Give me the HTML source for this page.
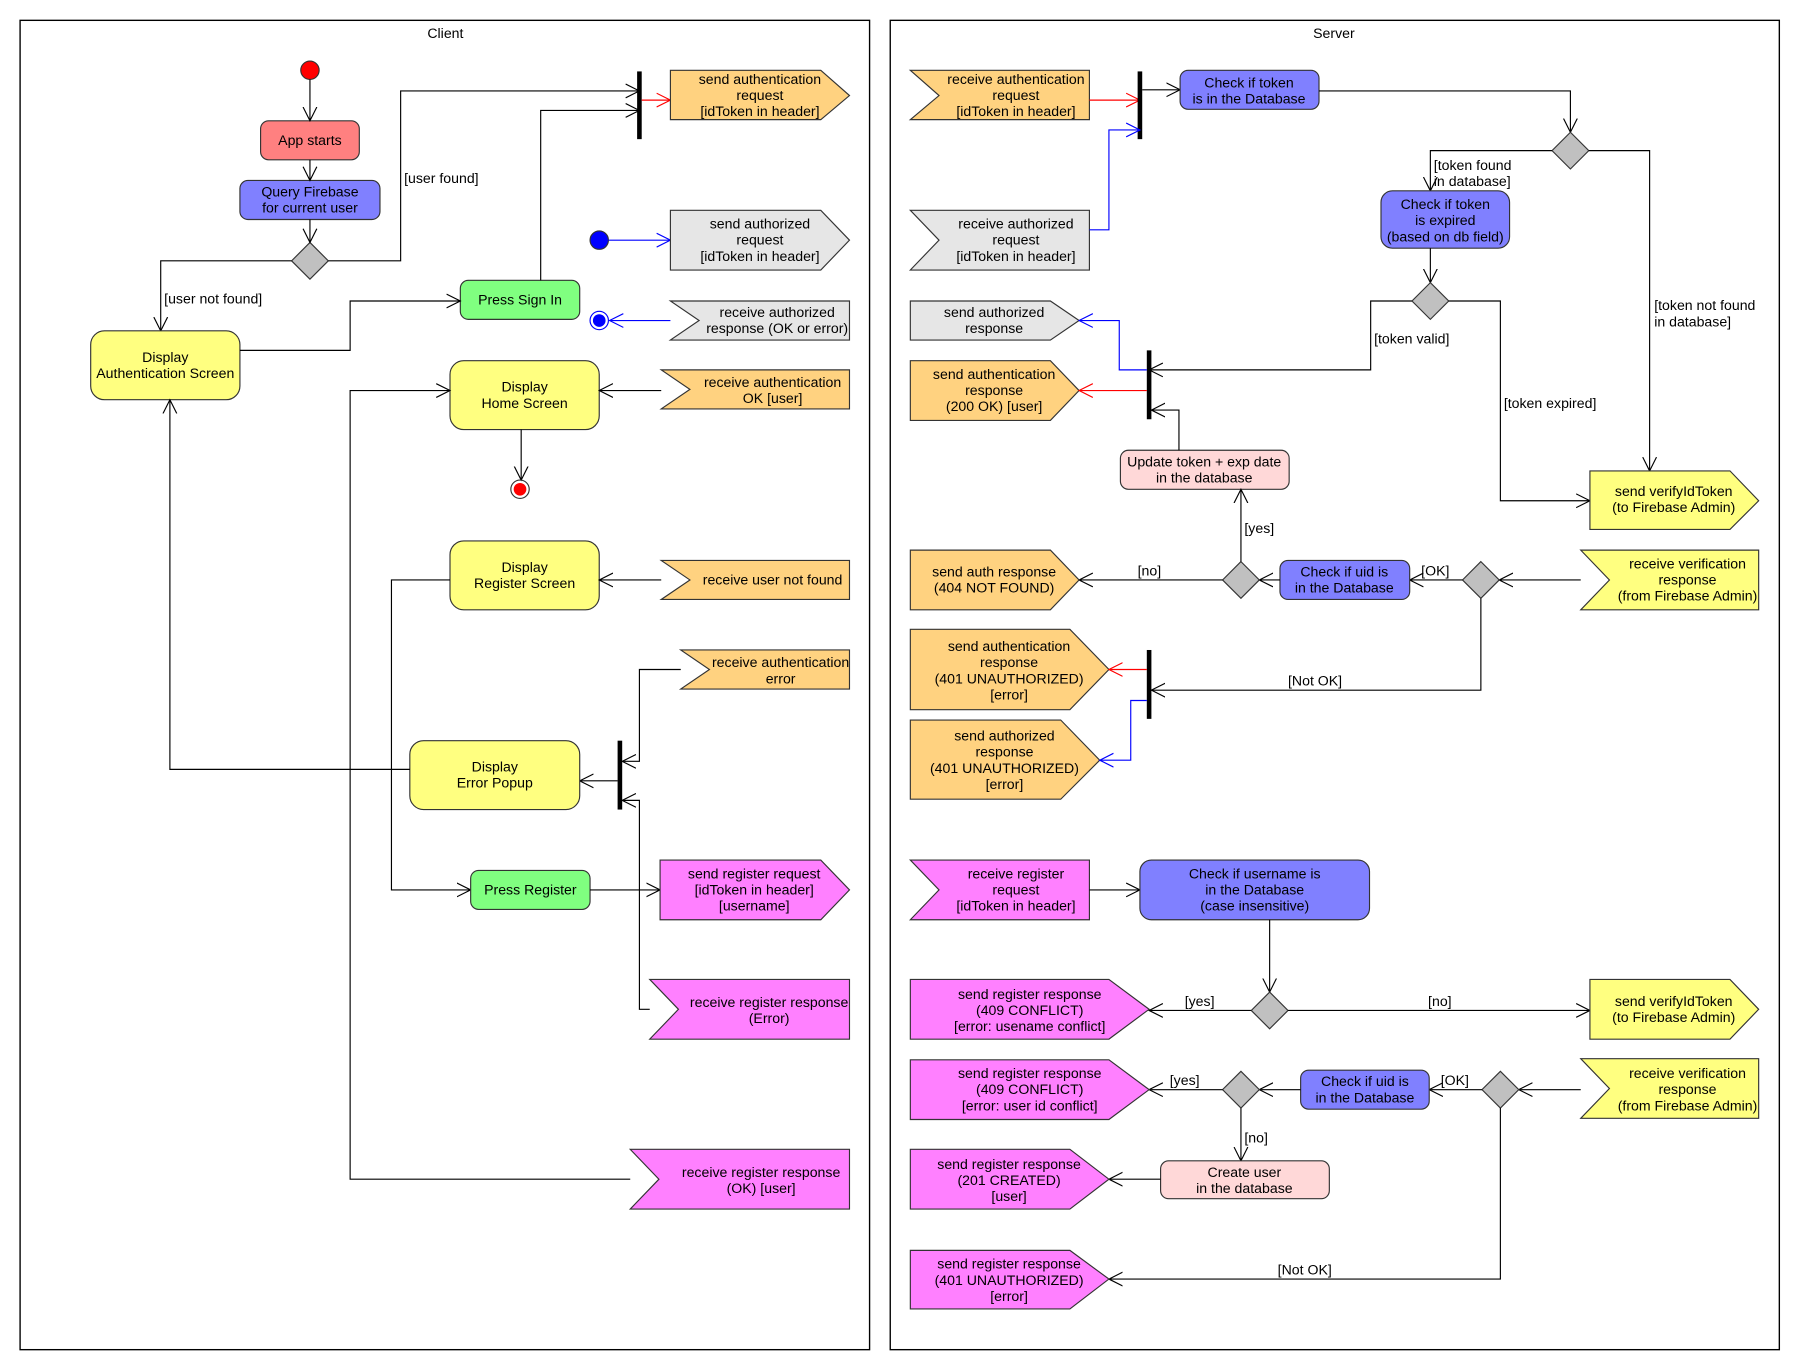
<!DOCTYPE html>
<html><head><meta charset="utf-8"><style>
html,body{margin:0;padding:0;background:#fff}
svg{display:block}
text{font-family:"Liberation Sans",sans-serif;font-size:12.3px;fill:#000}
.t{text-anchor:middle}
.n{stroke:#333;stroke-width:1}
.l{fill:none;stroke:#000;stroke-width:1}
.r{fill:none;stroke:#f00;stroke-width:1}
.b{fill:none;stroke:#00f;stroke-width:1}
</style></head><body>
<svg width="1800" height="1370" viewBox="0 0 1568 1193" xmlns="http://www.w3.org/2000/svg">
<defs>
<marker id="a" markerUnits="userSpaceOnUse" markerWidth="14" markerHeight="14" refX="12" refY="7" orient="auto"><path d="M0,1 L12,7 L0,13" fill="none" stroke="#000" stroke-width="1"/></marker>
<marker id="ar" markerUnits="userSpaceOnUse" markerWidth="14" markerHeight="14" refX="12" refY="7" orient="auto"><path d="M0,1 L12,7 L0,13" fill="none" stroke="#f00" stroke-width="1"/></marker>
<marker id="ab" markerUnits="userSpaceOnUse" markerWidth="14" markerHeight="14" refX="12" refY="7" orient="auto"><path d="M0,1 L12,7 L0,13" fill="none" stroke="#00f" stroke-width="1"/></marker>
</defs>
<rect x="0" y="0" width="1568" height="1193" fill="#fff"/>
<!-- frames -->
<rect x="17.5" y="17.5" width="740" height="1158" fill="none" stroke="#000" stroke-width="1.2"/>
<rect x="775.5" y="17.5" width="774.5" height="1158" fill="none" stroke="#000" stroke-width="1.2"/>
<text class="t" x="388" y="33">Client</text>
<text class="t" x="1162" y="33">Server</text>

<!-- ===== CLIENT ===== -->
<circle cx="270" cy="61" r="8" fill="#f00" class="n"/>
<rect x="227" y="105" width="86" height="34" rx="7" fill="#ff8080" class="n"/>
<text class="t" x="270" y="126">App starts</text>
<rect x="209" y="157" width="122" height="34" rx="7" fill="#8080ff" class="n"/>
<text class="t" x="270" y="171">Query Firebase<tspan x="270" dy="14">for current user</tspan></text>
<polygon points="270,211 286,227 270,243 254,227" fill="#c0c0c0" class="n"/>
<path class="l" d="M270,69 V105" marker-end="url(#a)"/>
<path class="l" d="M270,139 V157" marker-end="url(#a)"/>
<path class="l" d="M270,191 V211" marker-end="url(#a)"/>
<path class="l" d="M254,227 H140 V288" marker-end="url(#a)"/>
<text x="143" y="264">[user not found]</text>
<path class="l" d="M286,227 H349 V79 H557" marker-end="url(#a)"/>
<text x="352" y="159">[user found]</text>
<rect x="555" y="62" width="4" height="59" fill="#000"/>
<rect x="401" y="244" width="104" height="34" rx="7" fill="#80ff80" class="n"/>
<text class="t" x="453" y="265">Press Sign In</text>
<path class="l" d="M471,244 V96 H557" marker-end="url(#a)"/>
<path class="r" d="M559,87 H584" marker-end="url(#ar)"/>
<polygon points="584,61 715,61 740,83 715,104 584,104" fill="#ffd280" class="n"/>
<text class="t" x="662" y="73">send authentication<tspan x="662" dy="14">request</tspan><tspan x="662" dy="14">[idToken in header]</tspan></text>
<circle cx="522" cy="209" r="8" fill="#00f" class="n"/>
<path class="b" d="M530,209 H584" marker-end="url(#ab)"/>
<polygon points="584,183 715,183 740,209 715,235 584,235" fill="#e6e6e6" class="n"/>
<text class="t" x="662" y="199">send authorized<tspan x="662" dy="14">request</tspan><tspan x="662" dy="14">[idToken in header]</tspan></text>
<polygon points="584,262 740,262 740,296 584,296 609,279" fill="#e6e6e6" class="n"/>
<text class="t" x="677" y="276">receive authorized<tspan x="677" dy="14">response (OK or error)</tspan></text>
<path class="b" d="M584,279 H531" marker-end="url(#ab)"/>
<circle cx="522" cy="279" r="8" fill="none" stroke="#00f"/>
<circle cx="522" cy="279" r="5.5" fill="#00f"/>
<rect x="79" y="288" width="130" height="60" rx="12" fill="#ffff80" class="n"/>
<text class="t" x="144" y="315">Display<tspan x="144" dy="14">Authentication Screen</tspan></text>
<path class="l" d="M209,305 H305 V262 H401" marker-end="url(#a)"/>
<rect x="392" y="314" width="130" height="60" rx="12" fill="#ffff80" class="n"/>
<text class="t" x="457" y="341">Display<tspan x="457" dy="14">Home Screen</tspan></text>
<polygon points="576,322 740,322 740,356 576,356 601,339" fill="#ffd280" class="n"/>
<text class="t" x="673" y="337">receive authentication<tspan x="673" dy="14">OK [user]</tspan></text>
<path class="l" d="M576,340 H522" marker-end="url(#a)"/>
<path class="l" d="M454,374 V418" marker-end="url(#a)"/>
<circle cx="453" cy="426" r="8" fill="none" stroke="#333"/>
<circle cx="453" cy="426" r="5.5" fill="#f00"/>
<path class="l" d="M549,1027 H305 V340 H392" marker-end="url(#a)"/>
<rect x="392" y="471" width="130" height="60" rx="12" fill="#ffff80" class="n"/>
<text class="t" x="457" y="498">Display<tspan x="457" dy="14">Register Screen</tspan></text>
<polygon points="576,488 740,488 740,522 576,522 601,505" fill="#ffd280" class="n"/>
<text class="t" x="673" y="509">receive user not found</text>
<path class="l" d="M576,505 H522" marker-end="url(#a)"/>
<path class="l" d="M392,505 H341 V775 H410" marker-end="url(#a)"/>
<rect x="410" y="758" width="104" height="34" rx="7" fill="#80ff80" class="n"/>
<text class="t" x="462" y="779">Press Register</text>
<path class="l" d="M514,775 H575" marker-end="url(#a)"/>
<polygon points="575,749 715,749 740,775 715,801 575,801" fill="#ff80ff" class="n"/>
<text class="t" x="657" y="765">send register request<tspan x="657" dy="14">[idToken in header]</tspan><tspan x="657" dy="14">[username]</tspan></text>
<polygon points="593,566 740,566 740,600 593,600 618,583" fill="#ffd280" class="n"/>
<text class="t" x="680" y="581">receive authentication<tspan x="680" dy="14">error</tspan></text>
<path class="l" d="M593,583 H557 V663 H542" marker-end="url(#a)"/>
<rect x="538" y="645" width="4" height="60" fill="#000"/>
<path class="l" d="M538,680 H505" marker-end="url(#a)"/>
<rect x="357" y="645" width="148" height="60" rx="12" fill="#ffff80" class="n"/>
<text class="t" x="431" y="672">Display<tspan x="431" dy="14">Error Popup</tspan></text>
<path class="l" d="M357,670 H148 V348" marker-end="url(#a)"/>
<polygon points="566,853 740,853 740,905 566,905 591,879" fill="#ff80ff" class="n"/>
<text class="t" x="670" y="877">receive register response<tspan x="670" dy="14">(Error)</tspan></text>
<path class="l" d="M566,879 H557 V697 H542" marker-end="url(#a)"/>
<polygon points="549,1001 740,1001 740,1053 549,1053 574,1027" fill="#ff80ff" class="n"/>
<text class="t" x="663" y="1025">receive register response<tspan x="663" dy="14">(OK) [user]</tspan></text>

<!-- ===== SERVER ===== -->
<polygon points="793,61 949,61 949,104 793,104 818,83" fill="#ffd280" class="n"/>
<text class="t" x="885" y="73">receive authentication<tspan x="885" dy="14">request</tspan><tspan x="885" dy="14">[idToken in header]</tspan></text>
<path class="r" d="M949,87 H993" marker-end="url(#ar)"/>
<rect x="991" y="62" width="4" height="59" fill="#000"/>
<polygon points="793,183 949,183 949,235 793,235 818,209" fill="#e6e6e6" class="n"/>
<text class="t" x="885" y="199">receive authorized<tspan x="885" dy="14">request</tspan><tspan x="885" dy="14">[idToken in header]</tspan></text>
<path class="b" d="M949,200 H966 V113 H993" marker-end="url(#ab)"/>
<path class="l" d="M995,78 H1028" marker-end="url(#a)"/>
<rect x="1028" y="61" width="121" height="34" rx="7" fill="#8080ff" class="n"/>
<text class="t" x="1088" y="76">Check if token<tspan x="1088" dy="14">is in the Database</tspan></text>
<path class="l" d="M1149,79 H1368 V115" marker-end="url(#a)"/>
<polygon points="1368,115 1384,131 1368,147 1352,131" fill="#c0c0c0" class="n"/>
<path class="l" d="M1352,131 H1246 V166" marker-end="url(#a)"/>
<text x="1249" y="148">[token found<tspan x="1249" dy="14">in database]</tspan></text>
<path class="l" d="M1384,131 H1437 V410" marker-end="url(#a)"/>
<text x="1441" y="270">[token not found<tspan x="1441" dy="14">in database]</tspan></text>
<rect x="1203" y="166" width="112" height="50" rx="10" fill="#8080ff" class="n"/>
<text class="t" x="1259" y="182">Check if token<tspan x="1259" dy="14">is expired</tspan><tspan x="1259" dy="14">(based on db field)</tspan></text>
<path class="l" d="M1246,216 V246" marker-end="url(#a)"/>
<polygon points="1246,246 1262,262 1246,278 1230,262" fill="#c0c0c0" class="n"/>
<path class="l" d="M1230,262 H1194 V322 H1001" marker-end="url(#a)"/>
<text x="1197" y="299">[token valid]</text>
<path class="l" d="M1262,262 H1307 V436 H1385" marker-end="url(#a)"/>
<text x="1310" y="355">[token expired]</text>
<rect x="999" y="305" width="4" height="60" fill="#000"/>
<polygon points="793,262 915,262 940,279 915,296 793,296" fill="#e6e6e6" class="n"/>
<text class="t" x="866" y="276">send authorized<tspan x="866" dy="14">response</tspan></text>
<path class="b" d="M999,322 H975 V279 H940" marker-end="url(#ab)"/>
<polygon points="793,314 915,314 940,340 915,366 793,366" fill="#ffd280" class="n"/>
<text class="t" x="866" y="330">send authentication<tspan x="866" dy="14">response</tspan><tspan x="866" dy="14">(200 OK) [user]</tspan></text>
<path class="r" d="M999,340 H940" marker-end="url(#ar)"/>
<rect x="976" y="392" width="147" height="34" rx="7" fill="#ffd8d8" class="n"/>
<text class="t" x="1049" y="406">Update token + exp date<tspan x="1049" dy="14">in the database</tspan></text>
<path class="l" d="M1027,392 V357 H1003" marker-end="url(#a)"/>
<polygon points="1385,410 1507,410 1532,436 1507,461 1385,461" fill="#ffff80" class="n"/>
<text class="t" x="1458" y="432">send verifyIdToken<tspan x="1458" dy="14">(to Firebase Admin)</tspan></text>
<polygon points="1377,479 1532,479 1532,531 1377,531 1402,505" fill="#ffff80" class="n"/>
<text class="t" x="1470" y="495">receive verification<tspan x="1470" dy="14">response</tspan><tspan x="1470" dy="14">(from Firebase Admin)</tspan></text>
<path class="l" d="M1377,505 H1306" marker-end="url(#a)"/>
<polygon points="1290,489 1306,505 1290,521 1274,505" fill="#c0c0c0" class="n"/>
<path class="l" d="M1274,505 H1228" marker-end="url(#a)"/>
<text x="1238" y="501">[OK]</text>
<rect x="1115" y="488" width="113" height="34" rx="7" fill="#8080ff" class="n"/>
<text class="t" x="1171" y="502">Check if uid is<tspan x="1171" dy="14">in the Database</tspan></text>
<path class="l" d="M1115,505 H1097" marker-end="url(#a)"/>
<polygon points="1081,489 1097,505 1081,521 1065,505" fill="#c0c0c0" class="n"/>
<path class="l" d="M1081,489 V426" marker-end="url(#a)"/>
<text x="1084" y="464">[yes]</text>
<path class="l" d="M1065,505 H940" marker-end="url(#a)"/>
<text x="991" y="501">[no]</text>
<polygon points="793,479 915,479 940,505 915,531 793,531" fill="#ffd280" class="n"/>
<text class="t" x="866" y="502">send auth response<tspan x="866" dy="14">(404 NOT FOUND)</tspan></text>
<path class="l" d="M1290,521 V601 H1003" marker-end="url(#a)"/>
<text x="1122" y="597">[Not OK]</text>
<rect x="999" y="566" width="4" height="60" fill="#000"/>
<polygon points="793,548 932,548 966,583 932,618 793,618" fill="#ffd280" class="n"/>
<text class="t" x="879" y="567">send authentication<tspan x="879" dy="14">response</tspan><tspan x="879" dy="14">(401 UNAUTHORIZED)</tspan><tspan x="879" dy="14">[error]</tspan></text>
<path class="r" d="M999,583 H966" marker-end="url(#ar)"/>
<polygon points="793,627 924,627 958,662 924,696 793,696" fill="#ffd280" class="n"/>
<text class="t" x="875" y="645">send authorized<tspan x="875" dy="14">response</tspan><tspan x="875" dy="14">(401 UNAUTHORIZED)</tspan><tspan x="875" dy="14">[error]</tspan></text>
<path class="b" d="M999,610 H985 V662 H958" marker-end="url(#ab)"/>

<polygon points="793,749 949,749 949,801 793,801 818,775" fill="#ff80ff" class="n"/>
<text class="t" x="885" y="765">receive register<tspan x="885" dy="14">request</tspan><tspan x="885" dy="14">[idToken in header]</tspan></text>
<path class="l" d="M949,775 H993" marker-end="url(#a)"/>
<rect x="993" y="749" width="200" height="52" rx="10" fill="#8080ff" class="n"/>
<text class="t" x="1093" y="765">Check if username is<tspan x="1093" dy="14">in the Database</tspan><tspan x="1093" dy="14">(case insensitive)</tspan></text>
<path class="l" d="M1106,801 V864" marker-end="url(#a)"/>
<polygon points="1106,864 1122,880 1106,896 1090,880" fill="#c0c0c0" class="n"/>
<path class="l" d="M1090,880 H1001" marker-end="url(#a)"/>
<text x="1032" y="876">[yes]</text>
<path class="l" d="M1122,880 H1385" marker-end="url(#a)"/>
<text x="1244" y="876">[no]</text>
<polygon points="793,853 966,853 1001,879 966,905 793,905" fill="#ff80ff" class="n"/>
<text class="t" x="897" y="870">send register response<tspan x="897" dy="14">(409 CONFLICT)</tspan><tspan x="897" dy="14">[error: usename conflict]</tspan></text>
<polygon points="1385,853 1507,853 1532,879 1507,905 1385,905" fill="#ffff80" class="n"/>
<text class="t" x="1458" y="876">send verifyIdToken<tspan x="1458" dy="14">(to Firebase Admin)</tspan></text>
<polygon points="1377,922 1532,922 1532,974 1377,974 1402,948" fill="#ffff80" class="n"/>
<text class="t" x="1470" y="939">receive verification<tspan x="1470" dy="14">response</tspan><tspan x="1470" dy="14">(from Firebase Admin)</tspan></text>
<path class="l" d="M1377,949 H1323" marker-end="url(#a)"/>
<polygon points="1307,933 1323,949 1307,965 1291,949" fill="#c0c0c0" class="n"/>
<path class="l" d="M1291,949 H1245" marker-end="url(#a)"/>
<text x="1255" y="945">[OK]</text>
<rect x="1133" y="932" width="112" height="34" rx="7" fill="#8080ff" class="n"/>
<text class="t" x="1189" y="946">Check if uid is<tspan x="1189" dy="14">in the Database</tspan></text>
<path class="l" d="M1133,949 H1097" marker-end="url(#a)"/>
<polygon points="1081,933 1097,949 1081,965 1065,949" fill="#c0c0c0" class="n"/>
<path class="l" d="M1065,949 H1001" marker-end="url(#a)"/>
<text x="1019" y="945">[yes]</text>
<polygon points="793,923 966,923 1001,949 966,975 793,975" fill="#ff80ff" class="n"/>
<text class="t" x="897" y="939">send register response<tspan x="897" dy="14">(409 CONFLICT)</tspan><tspan x="897" dy="14">[error: user id conflict]</tspan></text>
<path class="l" d="M1081,965 V1011" marker-end="url(#a)"/>
<text x="1084" y="995">[no]</text>
<rect x="1011" y="1011" width="147" height="33" rx="7" fill="#ffd8d8" class="n"/>
<text class="t" x="1084" y="1025">Create user<tspan x="1084" dy="14">in the database</tspan></text>
<path class="l" d="M1011,1027 H966" marker-end="url(#a)"/>
<polygon points="793,1001 932,1001 966,1027 932,1053 793,1053" fill="#ff80ff" class="n"/>
<text class="t" x="879" y="1018">send register response<tspan x="879" dy="14">(201 CREATED)</tspan><tspan x="879" dy="14">[user]</tspan></text>
<path class="l" d="M1307,965 V1114 H966" marker-end="url(#a)"/>
<text x="1113" y="1110">[Not OK]</text>
<polygon points="793,1089 932,1089 966,1114 932,1140 793,1140" fill="#ff80ff" class="n"/>
<text class="t" x="879" y="1105">send register response<tspan x="879" dy="14">(401 UNAUTHORIZED)</tspan><tspan x="879" dy="14">[error]</tspan></text>
</svg>
</body></html>
